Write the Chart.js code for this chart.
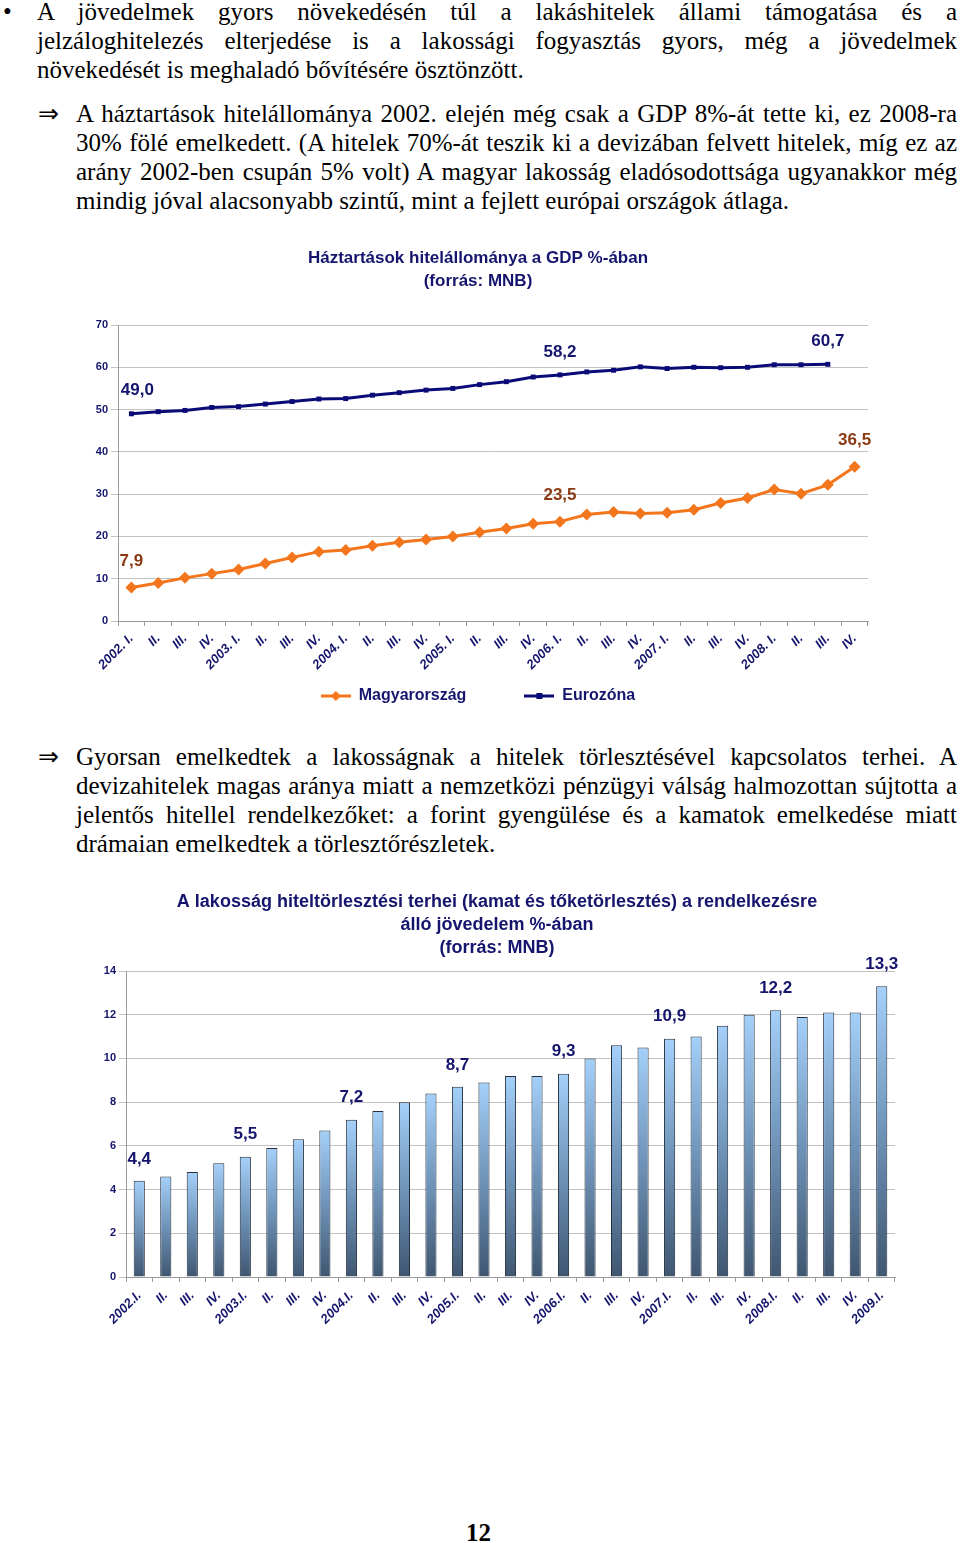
<!DOCTYPE html>
<html lang="hu">
<head>
<meta charset="utf-8">
<script src="https://cdn.jsdelivr.net/npm/chart.js@4.4.1/dist/chart.umd.min.js"></script>
<style>
body { margin: 0; width: 960px; height: 1543px; position: relative; background: #fff; color: #000;
       font-family: "Liberation Serif", "Times New Roman", serif; overflow: hidden; }
.p { position: absolute; font-size: 25px; line-height: 29px; }
.p div { text-align: justify; text-align-last: justify; }
.p div.last { text-align-last: left; }
.mark { position: absolute; font-size: 25px; line-height: 29px; }
.box { position: absolute; }
.page { position: absolute; left: 0; width: 957px; top: 1519px; text-align: center; font-weight: bold; font-size: 25px; }
</style>
</head>
<body>

<div class="mark" style="left:3px; top:-3px;">•</div>
<div class="p" style="left:37px; width:920px; top:-3px;">
  <div>A jövedelmek gyors növekedésén túl a lakáshitelek állami támogatása és a</div>
  <div>jelzáloghitelezés elterjedése is a lakossági fogyasztás gyors, még a jövedelmek</div>
  <div class="last">növekedését is meghaladó bővítésére ösztönzött.</div>
</div>

<div class="mark" style="left:38px; top:99px;">⇒</div>
<div class="p" style="left:76px; width:881px; top:99px;">
  <div>A háztartások hitelállománya 2002. elején még csak a GDP 8%-át tette ki, ez 2008-ra</div>
  <div>30% fölé emelkedett. (A hitelek 70%-át teszik ki a devizában felvett hitelek, míg ez az</div>
  <div>arány 2002-ben csupán 5% volt) A magyar lakosság eladósodottsága ugyanakkor még</div>
  <div class="last">mindig jóval alacsonyabb szintű, mint a fejlett európai országok átlaga.</div>
</div>

<div class="box" style="left:88px; top:241px; width:820px; height:473px;">
  <canvas id="gdpChart"></canvas>
</div>

<div class="mark" style="left:38px; top:742px;">⇒</div>
<div class="p" style="left:76px; width:881px; top:742px;">
  <div>Gyorsan emelkedtek a lakosságnak a hitelek törlesztésével kapcsolatos terhei. A</div>
  <div>devizahitelek magas aránya miatt a nemzetközi pénzügyi válság halmozottan sújtotta a</div>
  <div>jelentős hitellel rendelkezőket: a forint gyengülése és a kamatok emelkedése miatt</div>
  <div class="last">drámaian emelkedtek a törlesztőrészletek.</div>
</div>

<div class="box" style="left:99px; top:885px; width:826px; height:455px;">
  <canvas id="debtChart"></canvas>
</div>

<div class="page">12</div>

<script>
// household loans, % of GDP (quarterly)
const quarters = [
  '2002. I.', 'II.', 'III.', 'IV.', '2003. I.', 'II.', 'III.', 'IV.',
  '2004. I.', 'II.', 'III.', 'IV.', '2005. I.', 'II.', 'III.', 'IV.',
  '2006. I.', 'II.', 'III.', 'IV.', '2007. I.', 'II.', 'III.', 'IV.',
  '2008. I.', 'II.', 'III.', 'IV.'
];
const hungary = [7.9, 9.0, 10.2, 11.2, 12.2, 13.6, 15.0, 16.4, 16.8, 17.8, 18.6, 19.3, 20.0, 21.0,
                 21.9, 23.0, 23.5, 25.2, 25.8, 25.4, 25.6, 26.3, 27.9, 29.1, 31.1, 30.1, 32.2, 36.5];
const eurozone = [49.0, 49.5, 49.8, 50.5, 50.7, 51.3, 51.9, 52.5, 52.6, 53.4, 54.0, 54.6, 55.0, 55.9,
                  56.6, 57.7, 58.2, 58.9, 59.3, 60.1, 59.7, 60.0, 59.9, 60.0, 60.6, 60.6, 60.7, null];
const hungaryLabelIdx = [0, 16, 27];
const eurozoneLabelIdx = [0, 16, 26];

// debt service, % of disposable income
const payQuarters = [
  '2002.I.', 'II.', 'III.', 'IV.', '2003.I.', 'II.', 'III.', 'IV.',
  '2004.I.', 'II.', 'III.', 'IV.', '2005.I.', 'II.', 'III.', 'IV.',
  '2006.I.', 'II.', 'III.', 'IV.', '2007.I.', 'II.', 'III.', 'IV.',
  '2008.I.', 'II.', 'III.', 'IV.', '2009.I.'
];
const debtService = [4.4, 4.6, 4.8, 5.2, 5.5, 5.9, 6.3, 6.7, 7.2, 7.6, 8.0, 8.4, 8.7, 8.9, 9.2,
                     9.2, 9.3, 10.0, 10.6, 10.5, 10.9, 11.0, 11.5, 12.0, 12.2, 11.9, 12.1, 12.1, 13.3];
const debtLabelIdx = [0, 4, 8, 12, 16, 20, 24, 28];

const navy = '#15156e';
const orange = '#f4761c';
const lineNavy = '#0b0b78';
const brown = '#8a3a12';
const gridGray = '#c2c2c2';

Chart.defaults.font.family = '"Liberation Sans", Arial, sans-serif';

const valueLabels = {
    id: 'valueLabels',
    afterDatasetsDraw(chart) {
        const ctx = chart.ctx;
        chart.data.datasets.forEach((ds, i) => {
            if (!ds.labelIdx) return;
            const meta = chart.getDatasetMeta(i);
            ctx.save();
            ctx.font = 'bold 17px "Liberation Sans", Arial, sans-serif';
            ctx.fillStyle = ds.labelColor;
            ctx.textAlign = 'center';
            ctx.textBaseline = 'middle';
            ds.labelIdx.forEach(k => {
                const el = meta.data[k];
                const dx = k === 0 && ds.labelDx ? ds.labelDx : 0;
                ctx.fillText(ds.data[k].toFixed(1).replace('.', ','), el.x + dx, el.y - ds.labelDy);
            });
            ctx.restore();
        });
    }
};

function legendMark(color, shape) {
    const c = document.createElement('canvas');
    c.width = 30;
    c.height = 12;
    const g = c.getContext('2d');
    g.strokeStyle = color;
    g.lineWidth = 3;
    g.beginPath();
    g.moveTo(0, 6);
    g.lineTo(30, 6);
    g.stroke();
    g.fillStyle = color;
    if (shape === 'diamond') {
        g.beginPath();
        g.moveTo(15, 1); g.lineTo(20, 6); g.lineTo(15, 11); g.lineTo(10, 6);
        g.closePath();
        g.fill();
    } else {
        g.fillRect(12, 3, 6, 6);
    }
    return c;
}

function barFill(context) {
    const chart = context.chart;
    if (!chart.chartArea || context.type !== 'data') return '#7ea4cc';
    const y = chart.scales.y;
    const top = y.getPixelForValue(context.raw);
    const bottom = y.getPixelForValue(0);
    const g = chart.ctx.createLinearGradient(0, top, 0, bottom);
    g.addColorStop(0, '#a4d0fa');
    g.addColorStop(0.5, '#6f93b8');
    g.addColorStop(1, '#3f5670');
    return g;
}

function loadGdpChart() {
    const ctx = document.getElementById('gdpChart');

    const data = {
        labels: quarters,
        datasets: [{
            label: 'Magyarország',
            data: hungary,
            borderColor: orange,
            backgroundColor: orange,
            borderWidth: 3,
            pointStyle: 'rectRot',
            pointRadius: 6,
            pointBorderWidth: 0,
            labelIdx: hungaryLabelIdx,
            labelColor: brown,
            labelDy: 26,
            legendMark: legendMark(orange, 'diamond')
        }, {
            label: 'Eurozóna',
            data: eurozone,
            borderColor: lineNavy,
            backgroundColor: lineNavy,
            borderWidth: 3,
            pointStyle: 'rect',
            pointRadius: 3.5,
            pointBorderWidth: 0,
            labelIdx: eurozoneLabelIdx,
            labelColor: navy,
            labelDy: 23,
            labelDx: 6,
            legendMark: legendMark(lineNavy, 'square')
        }]
    };

    new Chart(ctx, {
        type: 'line',
        data: data,
        options: {
            responsive: true,
            maintainAspectRatio: false,
            animation: false,
            layout: {
                padding: { left: 0, right: 40, top: 0, bottom: 0 }
            },
            plugins: {
                title: {
                    display: true,
                    text: ['Háztartások hitelállománya a GDP %-ában', '(forrás: MNB)'],
                    color: navy,
                    font: { size: 17, weight: 'bold', lineHeight: 23 / 17 },
                    padding: { top: 6, bottom: 32 }
                },
                legend: {
                    position: 'bottom',
                    labels: {
                        usePointStyle: true,
                        pointStyleWidth: 30,
                        padding: 10,
                        color: navy,
                        font: { size: 16, weight: 'bold' },
                        generateLabels(chart) {
                            const items = Chart.defaults.plugins.legend.labels.generateLabels(chart);
                            items.forEach((it, i) => {
                                it.pointStyle = chart.data.datasets[it.datasetIndex].legendMark;
                                // wide gap after the first entry, as in the original legend
                                if (i === 0) it.text += '\u2003\u2003\u2003';
                            });
                            return items;
                        }
                    }
                },
                tooltip: { enabled: false }
            },
            scales: {
                x: {
                    offset: true,
                    grid: { offset: true, drawOnChartArea: false, tickLength: 5, color: '#9a9a9a' },
                    border: { color: '#9a9a9a' },
                    ticks: {
                        autoSkip: false,
                        minRotation: 45,
                        maxRotation: 45,
                        padding: 5,
                        color: navy,
                        font: { size: 13, weight: 'bold', style: 'italic' }
                    },
                    afterFit(scale) { scale.height = 57; }
                },
                y: {
                    min: 0,
                    max: 70,
                    ticks: {
                        stepSize: 10,
                        padding: 3,
                        color: navy,
                        font: { size: 11, weight: 'bold' }
                    },
                    grid: { color: gridGray, tickLength: 7 },
                    border: { color: '#9a9a9a' },
                    afterFit(scale) { scale.width = 30; }
                }
            }
        },
        plugins: [valueLabels]
    });
}

function loadDebtChart() {
    const ctx = document.getElementById('debtChart');

    new Chart(ctx, {
        type: 'bar',
        data: {
            labels: payQuarters,
            datasets: [{
                label: 'Hiteltörlesztési terhek',
                data: debtService,
                backgroundColor: barFill,
                borderColor: '#22303f',
                borderWidth: 1,
                barPercentage: 0.42,
                categoryPercentage: 1,
                labelIdx: debtLabelIdx,
                labelColor: navy,
                labelDy: 22
            }]
        },
        options: {
            responsive: true,
            maintainAspectRatio: false,
            animation: false,
            layout: {
                padding: { left: 0, right: 30, top: 0, bottom: 0 }
            },
            plugins: {
                title: {
                    display: true,
                    text: ['A lakosság hiteltörlesztési terhei (kamat és tőketörlesztés) a rendelkezésre',
                           'álló jövedelem %-ában', '(forrás: MNB)'],
                    color: navy,
                    font: { size: 18, weight: 'bold', lineHeight: 23 / 18 },
                    padding: { top: 6, bottom: 11 }
                },
                legend: { display: false },
                tooltip: { enabled: false }
            },
            scales: {
                x: {
                    grid: { offset: true, drawOnChartArea: false, tickLength: 5, color: '#9a9a9a' },
                    border: { color: '#9a9a9a' },
                    ticks: {
                        autoSkip: false,
                        minRotation: 45,
                        maxRotation: 45,
                        padding: 6,
                        color: navy,
                        font: { size: 13, weight: 'bold', style: 'italic' }
                    },
                    afterFit(scale) { scale.height = 63; }
                },
                y: {
                    min: 0,
                    max: 14,
                    ticks: {
                        stepSize: 2,
                        padding: 3,
                        color: navy,
                        font: { size: 11, weight: 'bold' }
                    },
                    grid: { color: gridGray, tickLength: 7 },
                    border: { color: '#9a9a9a' },
                    afterFit(scale) { scale.width = 27; }
                }
            }
        },
        plugins: [valueLabels]
    });
}

loadGdpChart();
loadDebtChart();
</script>
</body>
</html>
